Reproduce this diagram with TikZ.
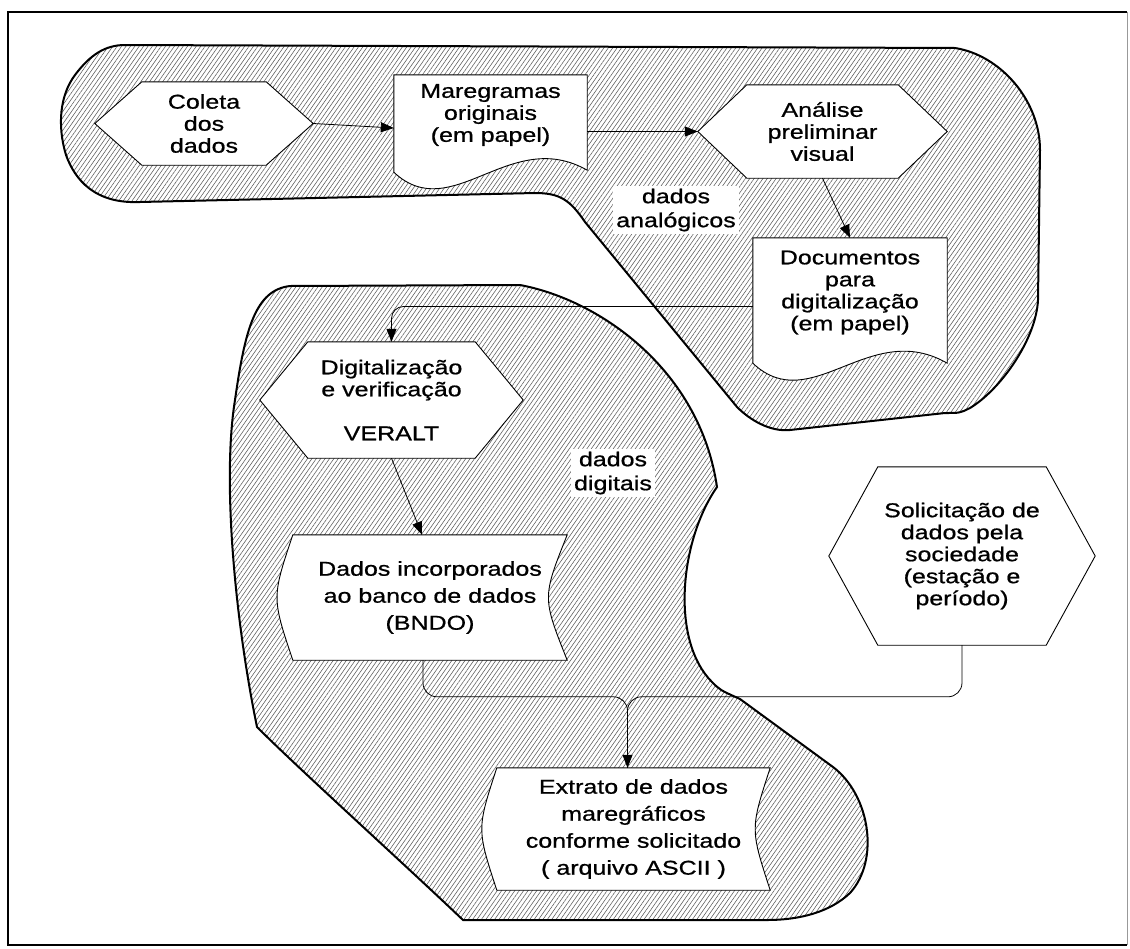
\documentclass[tikz,border=0pt]{standalone}
\usepackage{fontspec}
\setmainfont{Liberation Sans}[FakeStretch=1.25,FakeBold=0.8]
\usetikzlibrary{calc,arrows.meta,patterns.meta}
\pgfdeclarelayer{blobs}\pgfdeclarelayer{shapes}
\pgfsetlayers{blobs,shapes,main}
\tikzset{
 txt/.style={inner sep=0pt, align=center, font=\fontsize{20}{22}\selectfont},
 tall/.style={font=\fontsize{20}{27}\selectfont},
 shapeline/.style={draw=black, fill=white, line width=0.9pt},
 blob/.style={draw=black, line width=2pt, pattern={Lines[angle=55,distance=3.6pt,line width=0.55pt]}, pattern color=black!65},
 conn/.style={draw=black, line width=0.8pt},
 arr/.style={conn, -{Triangle[length=13pt,width=10pt]}},
 lbl/.style={fill=white, inner sep=3pt, align=center, font=\fontsize{20}{24}\selectfont}
}
\newcommand\hexshape[2]{\begin{pgfonlayer}{shapes}\filldraw[shapeline] ([xshift=#2]#1.north west) -- ([xshift=-#2]#1.north east) -- (#1.east) -- ([xshift=-#2]#1.south east) -- ([xshift=#2]#1.south west) -- (#1.west) -- cycle;\end{pgfonlayer}}
\newcommand\docshape[3]{%
 \coordinate (#1-se) at ([yshift=-#2]#1.south east);
 \coordinate (#1-sw) at ([yshift=-#3]#1.south west);
 \begin{pgfonlayer}{shapes}\filldraw[shapeline] (#1.north west) -- (#1.north east) -- (#1-se) .. controls ($(#1-se)!0.4!(#1-sw)+(0,-45)$) and ($(#1-se)!0.7!(#1-sw)+(0,55)$) .. (#1-sw) -- cycle;\end{pgfonlayer}}
\newcommand\storeshape[3]{\begin{pgfonlayer}{shapes}\filldraw[shapeline] (#1.north west) -- (#1.north east) .. controls ($(#1.north east)!0.5!(#1.south east)+(-#2,0)$) .. (#1.south east) -- (#1.south west) .. controls ($(#1.south west)!0.5!(#1.north west)+(-#3,0)$) .. (#1.north west) -- cycle;\end{pgfonlayer}}
\begin{document}
\begin{tikzpicture}[x=1pt,y=-1pt]
\useasboundingbox (0,0) rectangle (1130,948);
% frame
\draw[line width=2.5pt] (1127,12) -- (8,12) -- (8,945) -- (1127,945);
\draw[line width=0.6pt, black!40] (1127,12) -- (1127,945);
% blobs
\begin{pgfonlayer}{blobs}
\path[blob] (125,45) -- (955,48) .. controls (1000,55) and (1040,100) .. (1040,150) -- (1038,300) .. controls (1036,340) and (1000,390) .. (970,408) .. controls (960,413) .. (945,413) -- (790,430) .. controls (770,432) and (750,420) .. (737,407) -- (585,222) .. controls (570,200) and (560,193) .. (535,193) -- (140,202) .. controls (95,204) and (75,180) .. (66,155) .. controls (57,125) and (60,95) .. (75,75) .. controls (90,55) and (105,45) .. (125,45) -- cycle;
\path[blob] (290,286) -- (520,285) .. controls (600,300) and (700,370) .. (717,487) .. controls (680,540) and (670,640) .. (712,682) .. controls (720,690) .. (740,699) -- (833,767) .. controls (870,795) and (880,860) .. (850,893) .. controls (830,912) and (800,920) .. (767,920) -- (463,920) .. controls (400,860) and (300,770) .. (257,727) .. controls (235,620) and (222,480) .. (235,400) .. controls (245,330) and (255,290) .. (290,286) -- cycle;
\end{pgfonlayer}
% nodes
\node[txt, minimum width=218pt, minimum height=83pt] (col) at (204,123.5) {Coleta\\dos\\dados};
\hexshape{col}{47pt}
\node[txt, minimum width=193pt, minimum height=80pt] (mar) at (490.5,115) {Maregramas\\originais\\(em papel)};
\docshape{mar}{15pt}{17pt}
\node[txt, minimum width=249pt, minimum height=93pt] (ana) at (822.5,131.5) {Análise\\preliminar\\visual};
\hexshape{ana}{49pt}
\node[txt, minimum width=194pt, minimum height=109pt] (doc) at (850,292.5) {Documentos\\para\\digitalização\\(em papel)};
\docshape{doc}{16pt}{16pt}
\node[txt, minimum width=263pt, minimum height=116pt] (dig) at (391.5,400) {Digitalização\\e verificação\\[22pt]VERALT};
\hexshape{dig}{48pt}
\node[txt, tall, minimum width=274pt, minimum height=125pt] (dad) at (430,597.5) {Dados incorporados\\ao banco de dados\\(BNDO)};
\storeshape{dad}{25}{21}
\node[txt, tall, minimum width=273pt, minimum height=122pt] (ext) at (633.5,829) {Extrato de dados\\maregráficos\\conforme solicitado\\( arquivo ASCII )};
\storeshape{ext}{20}{20}
\node[txt, minimum width=266pt, minimum height=178pt] (sol) at (962,556) {Solicitação de\\dados pela\\sociedade\\(estação e\\período)};
\hexshape{sol}{49pt}
\node[lbl] (ana-lbl) at (676,210) {dados\\analógicos};
\node[lbl] (dig-lbl) at (613,473) {dados\\digitais};
% connectors
\draw[arr] (col.east) -- ([yshift=-13pt]mar.west);
\draw[arr] (mar.east |- ana.west) -- (ana.west);
\draw[arr] (ana.south) -- (doc.north);
\draw[arr, rounded corners=12pt] ([yshift=-14pt]doc.west) -| (dig.north);
\draw[arr] (dig.south) -- ([xshift=-8pt]dad.north);
\coordinate (et) at ([xshift=-6pt]ext.north);
\coordinate (mg) at ([yshift=71pt]et);
\draw[conn, rounded corners=14pt] (sol.south) |- (mg) -- (et);
\draw[arr, rounded corners=14pt] ([xshift=-7pt]dad.south) |- (mg) -- (et);
\end{tikzpicture}
\end{document}
